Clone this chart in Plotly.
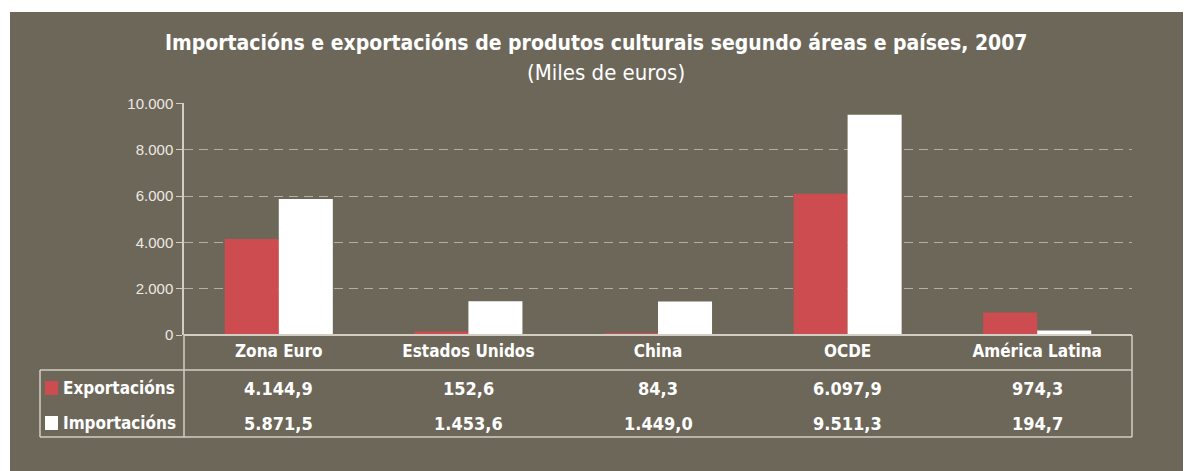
import plotly.graph_objects as go

categories = ["Zona Euro", "Estados Unidos", "China", "OCDE", "América Latina"]
exportacions = [4144.9, 152.6, 84.3, 6097.9, 974.3]
importacions = [5871.5, 1453.6, 1449.0, 9511.3, 194.7]
series_names = ["Exportacións", "Importacións"]
title_text = "Importacións e exportacións de produtos culturais segundo áreas e países, 2007"
subtitle_text = "(Miles de euros)"
y_ticks = [0, 2000, 4000, 6000, 8000, 10000]

OFF = 8  # default page body margin
PW, PH = 1191, 471  # page size
W, H = PW - OFF, PH - OFF
# plot area in page pixels
PL, PR, PT, PB = 184, 1132, 103, 335
L, R, T, B = PL - OFF, PR - OFF, PT - OFF, PB - OFF
BG = "#6d675a"
RED = "#cc4c4f"
LINE = "#d2cec3"
FONT = "Liberation Sans Narrow, DejaVu Sans Condensed, Roboto Condensed, Arial Narrow, sans-serif"


def px_x(px):
    return (px - PL) / (PR - PL)


def px_y(py):
    return (PB - py) / (PB - PT)


def fmt(v):
    s = f"{v:,.1f}"
    return s.replace(",", "X").replace(".", ",").replace("X", ".")


fig = go.Figure()
fig.add_trace(go.Bar(x=categories, y=exportacions, name=series_names[0],
                     marker=dict(color=RED, line=dict(width=0))))
fig.add_trace(go.Bar(x=categories, y=importacions, name=series_names[1],
                     marker=dict(color="#ffffff", line=dict(width=0))))

shapes = []
# white strips above / left of the brown panel
shapes.append(dict(type="rect", xref="paper", yref="paper", layer="below",
                   x0=px_x(0), x1=px_x(PW + 5), y0=px_y(0), y1=px_y(12),
                   fillcolor="#ffffff", line=dict(width=0)))
shapes.append(dict(type="rect", xref="paper", yref="paper", layer="below",
                   x0=px_x(0), x1=px_x(10), y0=px_y(0), y1=px_y(PH + 5),
                   fillcolor="#ffffff", line=dict(width=0)))


def hline(y, x0, x1, w=1.5):
    shapes.append(dict(type="line", xref="paper", yref="paper",
                       x0=px_x(x0), x1=px_x(x1), y0=px_y(y), y1=px_y(y),
                       line=dict(color=LINE, width=w)))


def vline(x, y0, y1, w=1.5):
    shapes.append(dict(type="line", xref="paper", yref="paper",
                       x0=px_x(x), x1=px_x(x), y0=px_y(y0), y1=px_y(y1),
                       line=dict(color=LINE, width=w)))


hline(335, 184, PR, 2)
hline(370, 40, PR)
hline(437, 40, PR)
vline(40, 370, 437)
vline(184, 335, 437)
vline(PR, 335, 437)

# legend squares
for py0, col in [(381, RED), (416, "#ffffff")]:
    shapes.append(dict(type="rect", xref="paper", yref="paper",
                       x0=px_x(45), x1=px_x(58), y0=px_y(py0), y1=px_y(py0 + 14),
                       fillcolor=col, line=dict(width=0)))

annotations = [
    dict(text="<b>" + title_text + "</b>", xref="paper", yref="paper",
         x=px_x(596), y=px_y(43), showarrow=False, xanchor="center", yanchor="middle",
         font=dict(family=FONT, size=21, color="#ffffff")),
    dict(text=subtitle_text, xref="paper", yref="paper",
         x=px_x(606), y=px_y(73), showarrow=False, xanchor="center", yanchor="middle",
         font=dict(family=FONT, size=22, color="#ffffff")),
]
for name, py in zip(series_names, [388, 423]):
    annotations.append(dict(text="<b>" + name + "</b>", xref="paper", yref="paper",
                            x=px_x(61), y=px_y(py), showarrow=False,
                            xanchor="left", yanchor="middle",
                            font=dict(family=FONT, size=17, color="#ffffff")))
for vals, py in [(exportacions, 388), (importacions, 423)]:
    for c, v in zip(categories, vals):
        annotations.append(dict(text="<b>" + fmt(v) + "</b>", xref="x", yref="paper",
                                x=c, y=px_y(py), showarrow=False,
                                xanchor="center", yanchor="middle",
                                font=dict(family=FONT, size=18, color="#ffffff")))

fig.update_layout(
    width=W, height=H,
    margin=dict(l=L, r=W - R, t=T, b=H - B, pad=0),
    paper_bgcolor=BG,
    plot_bgcolor=BG,
    separators=",.",
    barmode="group",
    bargap=0.43,
    bargroupgap=0,
    showlegend=False,
    shapes=shapes,
    annotations=annotations,
    xaxis=dict(type="category", showgrid=False, showline=False, ticks="",
               tickfont=dict(family=FONT, size=17, color="#ffffff", weight="bold"),
               ticklabelstandoff=4),
    yaxis=dict(range=[0, 10020], tickvals=y_ticks, tickformat=",d",
               showgrid=True, gridcolor="#b3aea1", griddash="9px,6px", gridwidth=1,
               showline=True, linecolor=LINE, linewidth=1.5,
               ticks="outside", ticklen=6, tickcolor=LINE,
               tickfont=dict(family="Liberation Sans, Arial, sans-serif", size=15, color="#ece9e2"),
               zeroline=False),
)

fig.write_html("out.html")
